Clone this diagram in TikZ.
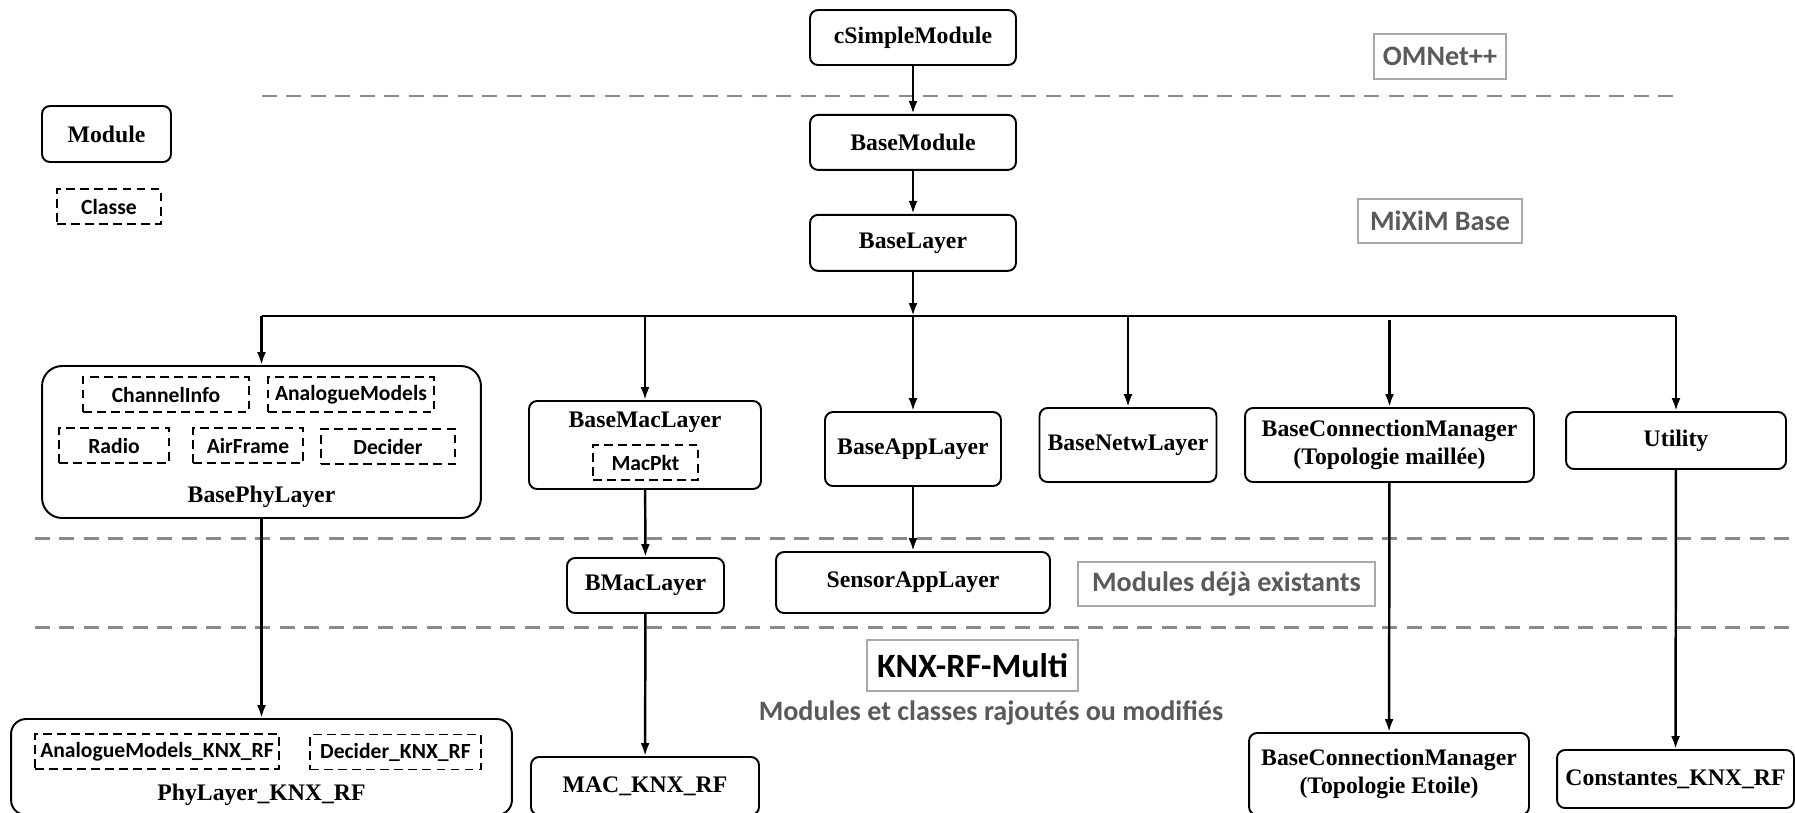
\documentclass[tikz,border=0pt]{standalone}
\usepackage{fontspec}
\setmainfont{Liberation Serif}
\newfontfamily\clsfont{Carlito}
\usepackage{xcolor}
\usetikzlibrary{arrows.meta, positioning, calc}

\definecolor{sepgray}{HTML}{8A8A8A}
\definecolor{taggray}{HTML}{5A5A5A}
\definecolor{tagframe}{HTML}{A8A8A8}

\begin{document}
\begin{tikzpicture}[
    x=0.02cm, y=-0.02cm,
    module/.style={draw, rectangle, rounded corners=0.16cm, line width=1.1pt,
      align=center, inner sep=0pt, font=\fontsize{13.5}{16}\selectfont\bfseries},
    title/.style={inner sep=0pt, font=\fontsize{13.5}{16}\selectfont\bfseries},
    classe/.style={draw, rectangle, line width=1.1pt, dash pattern=on 5pt off 3pt,
      inner sep=0pt, minimum height=0.7cm, font=\clsfont\fontsize{12.3}{14}\selectfont\bfseries},
    tag/.style={draw=tagframe, rectangle, line width=0.8pt, inner sep=0pt,
      text=taggray, font=\clsfont\fontsize{16}{18}\selectfont\bfseries},
    sep/.style={draw=sepgray, line width=1.7pt, dash pattern=on 0.3cm off 0.19cm},
    link/.style={line width=1.4pt},
    arrow/.style={line width=1.4pt, -{Latex[length=0.26cm, width=0.18cm]}}
]
\useasboundingbox (0,0) rectangle (1795,812);

% legende
\node[module, minimum width=2.58cm, minimum height=1.12cm] (legmod) at (106.5,134) {Module};
\node[classe, minimum width=2.08cm] (legcls) at (109,206.5) {Classe};

% couches OMNeT++ et MiXiM
\node[module, minimum width=4.12cm, minimum height=1.1cm] (csimple) at (913,37.5) {cSimpleModule};
\node[module, minimum width=4.12cm, minimum height=1.1cm, below=0.96cm of csimple] (basemod) {BaseModule};
\node[module, minimum width=4.12cm, minimum height=1.12cm, below=0.86cm of basemod] (baselayer) {BaseLayer};

\node[tag, minimum width=2.64cm, minimum height=0.9cm] (omnet) at (1440,56.5) {OMNet++};
\node[tag, minimum width=3.28cm, minimum height=0.88cm] (mixim) at (1440,221) {MiXiM Base};

\draw[sep] (262,96) -- (1676,96);
\draw[sep] (35,538) -- (1795,538);
\draw[sep] (35,627) -- (1795,627);

\coordinate (bus) at (913,316);

% BasePhyLayer
\node[module, rounded corners=0.4cm, minimum width=8.78cm, minimum height=3.04cm] (bphy) at (261.5,442) {};
\node[classe, minimum width=3.32cm] (chaninfo) at (166,394.5) {ChannelInfo};
\node[classe, minimum width=3.32cm] (analog) at (351,394.5) {AnalogueModels};
\node[classe, minimum width=2.2cm] (radio) at (114,445.5) {Radio};
\node[classe, minimum width=2.2cm] (airframe) at (248,445.5) {AirFrame};
\node[classe, minimum width=2.68cm] (decider) at (388,446.5) {Decider};
\node[title] (bphytxt) at (261.5,497) {BasePhyLayer};

% BaseMacLayer
\node[module, minimum width=4.64cm, minimum height=1.76cm] (bmac) at (645,445) {};
\node[title] (bmactxt) at (645,422) {BaseMacLayer};
\node[classe, minimum width=2.1cm] (macpkt) at (645.5,462.5) {MacPkt};

\node[module, minimum width=3.52cm, minimum height=1.48cm] (bapp) at (913,449) {BaseAppLayer};
\node[module, minimum width=3.54cm, minimum height=1.48cm] (bnetw) at (1128,445) {BaseNetwLayer};
\node[module, minimum width=5.78cm, minimum height=1.48cm] (bcm) at (1389.5,445) {BaseConnectionManager\\(Topologie maillée)};
\node[module, minimum width=4.4cm, minimum height=1.14cm] (util) at (1676,440.5) {Utility};

% modules deja existants
\node[module, minimum width=3.14cm, minimum height=1.1cm] (bmaclayer) at (645.5,585.5) {BMacLayer};
\node[module, minimum width=5.48cm, minimum height=1.22cm] (sensor) at (913,582.5) {SensorAppLayer};
\node[tag, minimum width=5.94cm, minimum height=0.88cm] (existants) at (1226.5,584) {Modules déjà existants};

% KNX-RF-Multi
\node[tag, text=black, minimum width=4.22cm, minimum height=1.02cm,
  font=\clsfont\fontsize{19.4}{22}\selectfont\bfseries] (knx) at (972.5,665.5) {KNX-RF-Multi};
\node[text=taggray, inner sep=0pt, font=\clsfont\fontsize{16}{18}\selectfont\bfseries] (ajout) at (991,713) {Modules et classes rajoutés ou modifiés};

\node[module, rounded corners=0.3cm, minimum width=10.02cm, minimum height=1.92cm] (phyknx) at (261.5,767) {};
\node[classe, minimum width=4.88cm] (analogknx) at (157,751.5) {AnalogueModels\_KNX\_RF};
\node[classe, minimum width=3.42cm] (deciderknx) at (395.5,752) {Decider\_KNX\_RF};
\node[title] (phyknxtxt) at (261.5,795) {PhyLayer\_KNX\_RF};

\node[module, minimum width=4.56cm, minimum height=1.16cm] (macknx) at (645,786) {MAC\_KNX\_RF};
\node[module, minimum width=5.6cm, minimum height=1.64cm] (bcmstar) at (1389,774) {BaseConnectionManager\\(Topologie Etoile)};
\node[module, minimum width=4.74cm, minimum height=1.16cm] (constknx) at (1675.5,779) {Constantes\_KNX\_RF};

% heritage
\draw[arrow] (csimple) -- (basemod);
\draw[arrow] (basemod) -- (baselayer);
\draw[arrow] (baselayer) -- (bus);
\draw[link] (bphy |- bus) -- (util |- bus);
\draw[arrow] (bphy |- bus) -- (bphy);
\draw[arrow] (bmac |- bus) -- (bmac);
\draw[arrow] (bus) -- (bapp);
\draw[arrow] (bnetw |- bus) -- (bnetw);
\draw[arrow] ($(bcm |- bus)+(0,4)$) -- (bcm);
\draw[arrow] (util |- bus) -- (util);

\draw[arrow] (bphy) -- (phyknx);
\draw[arrow] (bmac) -- (bmaclayer);
\draw[arrow] (bmaclayer) -- (macknx);
\draw[arrow] (bapp) -- (sensor);
\draw[arrow] (bcm) -- (bcmstar);
\draw[arrow] (util) -- (constknx);
\end{tikzpicture}
\end{document}
